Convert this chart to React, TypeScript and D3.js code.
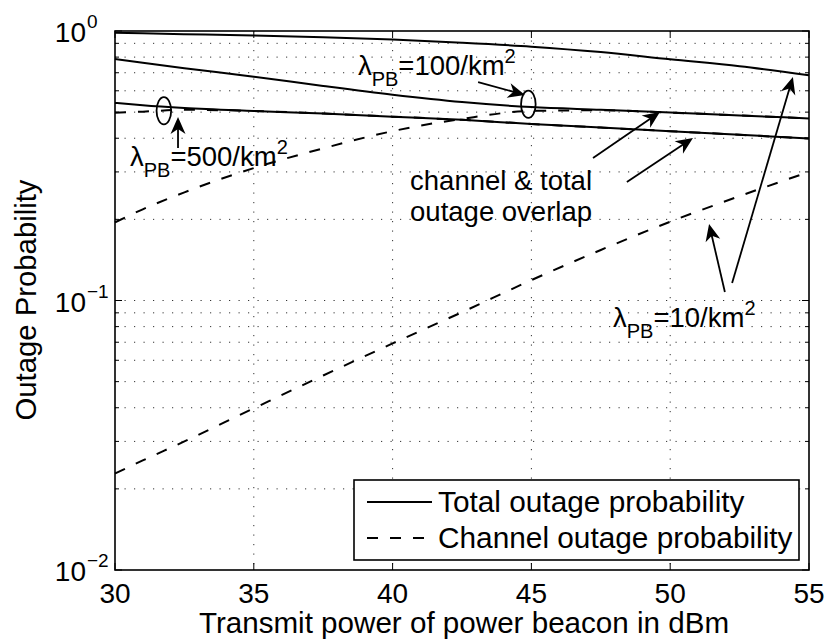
import React from "react";
import * as d3 from "d3";

const powerDbm = [30, 31, 32.5, 35, 37.5, 40, 42.5, 45, 47.5, 50, 52.5, 55];
const totalPB10 = [0.985, 0.98, 0.973, 0.962, 0.948, 0.93, 0.905, 0.875, 0.835, 0.785, 0.74, 0.685];
const channelPB10 = [0.0228, 0.0255, 0.03, 0.0398, 0.0527, 0.0693, 0.0905, 0.119, 0.154, 0.196, 0.244, 0.3];
const totalPB100 = [0.787, 0.762, 0.728, 0.677, 0.625, 0.58, 0.545, 0.522, 0.51, 0.498, 0.486, 0.474];
const channelPB100 = [0.195, 0.218, 0.252, 0.31, 0.367, 0.425, 0.472, 0.505, 0.508, 0.498, 0.486, 0.474];
const totalPB500 = [0.541, 0.53, 0.518, 0.505, 0.494, 0.481, 0.468, 0.452, 0.438, 0.425, 0.412, 0.399];
const channelPB500 = [0.497, 0.502, 0.51, 0.505, 0.494, 0.481, 0.468, 0.452, 0.438, 0.425, 0.412, 0.399];

const xTicks = [30, 35, 40, 45, 50, 55];
const yMajor = [0.01, 0.1, 1];
const yExponents = ["\u22122", "\u22121", "0"];
const legendLabels = ["Total outage probability", "Channel outage probability"];

// annotation anchors in data coordinates
const ellipses = [
  { x: 31.76, y: 0.506 },
  { x: 44.89, y: 0.535 },
];
const arrows = [
  { x1: 32.27, y1: 0.368, x2: 32.27, y2: 0.4796 },
  { x1: 43.08, y1: 0.6467, x2: 44.77, y2: 0.5789 },
  { x1: 47.22, y1: 0.3379, x2: 49.63, y2: 0.5004 },
  { x1: 48.44, y1: 0.2753, x2: 50.82, y2: 0.4009 },
  { x1: 51.97, y1: 0.1075, x2: 51.4, y2: 0.1923 },
  { x1: 52.23, y1: 0.1161, x2: 54.42, y2: 0.6751 },
];
const lambdaLabels = [
  { x: 30.54, y: 0.3155, text: "=500/km" },
  { x: 38.75, y: 0.6866, text: "=100/km" },
  { x: 47.94, y: 0.0797, text: "=10/km" },
];
const noteLines = [
  { x: 40.63, y: 0.257, text: "channel & total" },
  { x: 40.63, y: 0.197, text: "outage overlap" },
];

const W = 829;
const H = 644;
const L = 115, R = 809, T = 31, B = 570;
const FONT = "'Liberation Sans', Arial, Helvetica, sans-serif";

export default function App() {
  const x = d3.scaleLinear().domain([30, 55]).range([L, R]);
  const y = d3.scaleLog().domain([0.01, 1]).range([B, T]);

  const line = (vals: number[]) =>
    d3
      .line<number>()
      .x((_, i) => x(powerDbm[i]))
      .y((v) => y(v))
      .curve(d3.curveMonotoneX)(vals) as string;

  const solids = [totalPB10, totalPB100, totalPB500];
  const dashes = [channelPB10, channelPB100, channelPB500];

  const minorY: number[] = [];
  [0.01, 0.1].forEach((d) => {
    for (let k = 2; k <= 9; k++) minorY.push(d * k);
  });

  const arrowHead = (x1: number, y1: number, x2: number, y2: number) => {
    const ang = Math.atan2(y2 - y1, x2 - x1);
    const len = 17, hw = 7.5, back = 12;
    const ux = Math.cos(ang), uy = Math.sin(ang);
    const px = -uy, py = ux;
    const bx = x2 - ux * len, by = y2 - uy * len;
    const nx = x2 - ux * back, ny = y2 - uy * back;
    return `M${x2},${y2} L${bx + px * hw},${by + py * hw} L${nx},${ny} L${bx - px * hw},${by - py * hw} Z`;
  };

  const gridStyle = { stroke: "#333", strokeWidth: 1, strokeDasharray: "1.2,8.3" };

  return (
    <svg width={W} height={H} style={{ position: "absolute", left: 0, top: 0, background: "#fff" }} fontFamily={FONT}>
      <rect x={0} y={0} width={W} height={H} fill="#fff" />
      {/* grid */}
      {xTicks.slice(1, -1).map((t) => (
        <line key={"gx" + t} x1={x(t)} x2={x(t)} y1={T} y2={B} {...gridStyle} />
      ))}
      {[...minorY, 0.1].map((t, i) => (
        <line key={"gy" + i} x1={L} x2={R} y1={y(t)} y2={y(t)} {...gridStyle} />
      ))}
      {/* curves */}
      {solids.map((s, i) => (
        <path key={"s" + i} d={line(s)} fill="none" stroke="#000" strokeWidth={2} />
      ))}
      {dashes.map((s, i) => (
        <path key={"d" + i} d={line(s)} fill="none" stroke="#000" strokeWidth={2} strokeDasharray="11,12" />
      ))}
      {/* axes box */}
      <rect x={L} y={T} width={R - L} height={B - T} fill="none" stroke="#000" strokeWidth={1.6} />
      {xTicks.map((t) => (
        <g key={"xt" + t}>
          <line x1={x(t)} x2={x(t)} y1={B} y2={B - 7} stroke="#000" strokeWidth={1} />
          <line x1={x(t)} x2={x(t)} y1={T} y2={T + 7} stroke="#000" strokeWidth={1} />
          <text x={x(t)} y={603} fontSize={28} textAnchor="middle">
            {t}
          </text>
        </g>
      ))}
      {yMajor.map((t, i) => (
        <g key={"yt" + t}>
          <line x1={L} x2={L + 7} y1={y(t)} y2={y(t)} stroke="#000" strokeWidth={1} />
          <line x1={R} x2={R - 7} y1={y(t)} y2={y(t)} stroke="#000" strokeWidth={1} />
          <text x={86} y={y(t) + 11} fontSize={28} textAnchor="end">
            10
          </text>
          <text x={87} y={y(t) - 3} fontSize={19}>
            {yExponents[i]}
          </text>
        </g>
      ))}
      {minorY.map((t, i) => (
        <g key={"ym" + i}>
          <line x1={L} x2={L + 4} y1={y(t)} y2={y(t)} stroke="#000" strokeWidth={1} />
          <line x1={R} x2={R - 4} y1={y(t)} y2={y(t)} stroke="#000" strokeWidth={1} />
        </g>
      ))}
      {/* axis labels */}
      <text x={(L + R) / 2 + 2} y={633} fontSize={29.6} textAnchor="middle">
        Transmit power of power beacon in dBm
      </text>
      <text transform="translate(36,300) rotate(-90)" fontSize={29.3} textAnchor="middle">
        Outage Probability
      </text>
      {/* annotations */}
      {ellipses.map((e, i) => (
        <ellipse key={"e" + i} cx={x(e.x)} cy={y(e.y)} rx={7.3} ry={13.6} fill="none" stroke="#000" strokeWidth={1.8} />
      ))}
      {arrows.map((a, i) => {
        const x1 = x(a.x1), y1 = y(a.y1), x2 = x(a.x2), y2 = y(a.y2);
        const ang = Math.atan2(y2 - y1, x2 - x1);
        return (
          <g key={"a" + i}>
            <line x1={x1} y1={y1} x2={x2 - Math.cos(ang) * 10} y2={y2 - Math.sin(ang) * 10} stroke="#000" strokeWidth={1.8} />
            <path d={arrowHead(x1, y1, x2, y2)} fill="#000" />
          </g>
        );
      })}
      {lambdaLabels.map((l, i) => (
        <text key={"l" + i} x={x(l.x)} y={y(l.y)} fontSize={27.5}>
          <tspan>λ</tspan>
          <tspan dy={11} fontSize={20}>PB</tspan>
          <tspan dy={-11}>{l.text}</tspan>
          <tspan dy={-12} fontSize={20}>2</tspan>
        </text>
      ))}
      {noteLines.map((n, i) => (
        <text key={"n" + i} x={x(n.x)} y={y(n.y)} fontSize={27.5}>
          {n.text}
        </text>
      ))}
      {/* legend */}
      <rect x={354} y={480} width={445} height={80} fill="#fff" stroke="#000" strokeWidth={1.6} />
      {legendLabels.map((lab, i) => (
        <g key={"lg" + i}>
          <line x1={367} x2={432} y1={502 + i * 36} y2={502 + i * 36} stroke="#000" strokeWidth={2} strokeDasharray={i === 1 ? "11,12" : undefined} />
          <text x={438} y={512 + i * 36} fontSize={29.8}>
            {lab}
          </text>
        </g>
      ))}
    </svg>
  );
}
